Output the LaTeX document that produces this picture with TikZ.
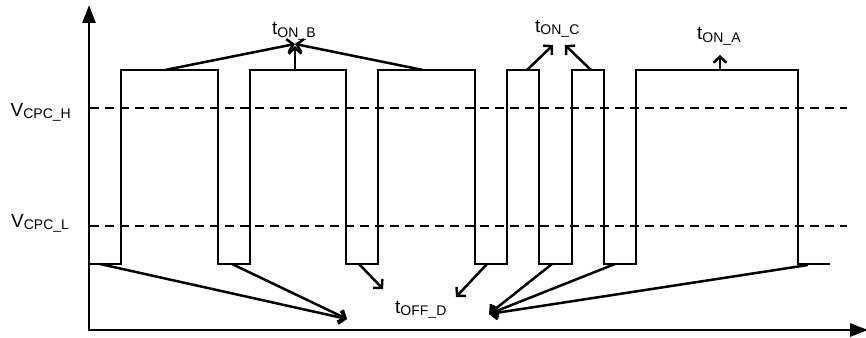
\documentclass[tikz,border=0pt]{standalone}
\usepackage{fontspec}
\setmainfont{Liberation Sans}
\usetikzlibrary{arrows.meta}
\newcommand{\sublbl}[2]{\fontsize{19}{22}\selectfont #1\raisebox{-2pt}{\fontsize{14}{16}\selectfont #2}}
\begin{document}
\begin{tikzpicture}[x=1pt,y=-1pt,
  wave/.style={line width=2.7pt, line join=miter},
  axisline/.style={line width=2.7pt, line join=miter, {Triangle[length=18pt,width=13pt]}-{Triangle[length=18pt,width=13pt]}},
  level/.style={line width=1.6pt, dash pattern=on 9pt off 6pt},
  ptr/.style={line width=2.5pt, -{Straight Barb[length=6pt,width=13pt]}},
  lbl/.style={inner sep=0pt, anchor=base west}]
\useasboundingbox (0,0) rectangle (866,337);
% axes
\coordinate (O) at (89,330);
\coordinate (ytop) at (89,5);
\coordinate (xend) at (868,330);
\draw[axisline] (ytop) -- (O) -- (xend);
% threshold levels
\coordinate (hL) at (90,108);
\coordinate (hR) at (847,108);
\coordinate (lL) at (90,226);
\coordinate (lR) at (847,226);
\draw[level] (hL) -- (hR);
\draw[level] (lL) -- (lR);
% waveform
\draw[wave] (89,264) -- (121,264) -- (121,70) -- (218,70) -- (218,264) -- (250,264)
  -- (250,70) -- (346,70) -- (346,264) -- (378,264) -- (378,70) -- (475,70)
  -- (475,264) -- (507,264) -- (507,70) -- (539,70) -- (539,264) -- (572,264)
  -- (572,70) -- (604,70) -- (604,264) -- (636,264) -- (636,70) -- (798,70)
  -- (798,264) -- (830,264);
% labels
\node[lbl] (vh) at (10.5,116.5) {\sublbl{V}{CPC\_H}};
\node[lbl] (vl) at (11,227) {\sublbl{V}{CPC\_L}};
\node[lbl] (tb) at (272,35) {\sublbl{t}{ON\_B}};
\node[lbl] (tc) at (535,33) {\sublbl{t}{ON\_C}};
\node[lbl] (ta) at (697,40) {\sublbl{t}{ON\_A}};
\node[lbl] (td) at (395,313) {\sublbl{t}{OFF\_D}};
% t_ON_B pointers
\coordinate (bx) at (295,44);
\coordinate (bv) at (295,46);
\coordinate (b1) at (165,70);
\coordinate (b2) at (423,70);
\coordinate (b3) at (295,70);
\draw[ptr] (b1) -- (bx);
\draw[ptr] (b2) -- (bx);
\draw[ptr] (b3) -- (bv);
% t_ON_C pointers
\coordinate (c1) at (527,70);
\coordinate (c1t) at (553,45);
\coordinate (c2) at (591,70);
\coordinate (c2t) at (565,45);
\draw[ptr] (c1) -- (c1t);
\draw[ptr] (c2) -- (c2t);
% t_ON_A pointer
\coordinate (a1) at (720,70);
\coordinate (a1t) at (720,55);
\draw[ptr] (a1) -- (a1t);
% t_OFF_D pointers
\coordinate (dL) at (347,319);
\coordinate (dR) at (489,314);
\coordinate (d1) at (100,264);
\coordinate (d2) at (232,264);
\coordinate (d3) at (359,264);
\coordinate (d3t) at (383,289);
\coordinate (d4) at (487,264);
\coordinate (d4t) at (456,297);
\coordinate (d5) at (552,264);
\coordinate (d6) at (615,264);
\coordinate (d7) at (808,265);
\draw[ptr] (d1) -- (dL);
\draw[ptr] (d2) -- (dL);
\draw[ptr] (d3) -- (d3t);
\draw[ptr] (d4) -- (d4t);
\draw[ptr] (d5) -- (dR);
\draw[ptr] (d6) -- (dR);
\draw[ptr] (d7) -- (dR);
\end{tikzpicture}
\end{document}
